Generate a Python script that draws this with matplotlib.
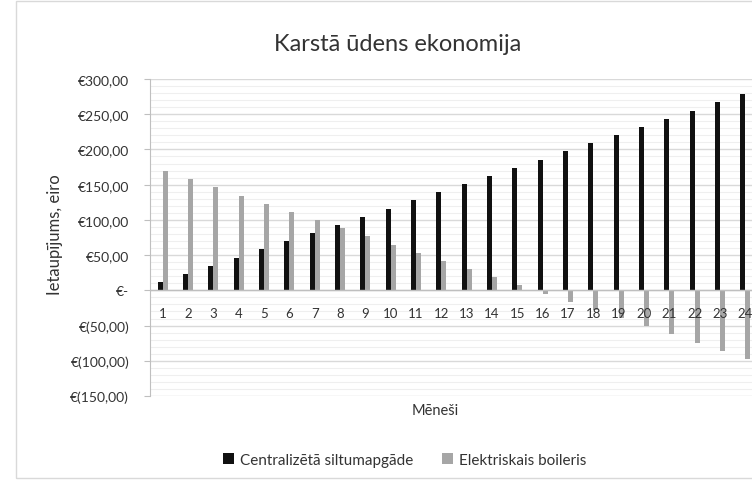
import matplotlib
matplotlib.use("Agg")
import matplotlib.pyplot as plt
from matplotlib.ticker import MultipleLocator, FuncFormatter
from matplotlib.patches import Rectangle

plt.rcParams['font.family'] = ['Lato', 'DejaVu Sans']

months = list(range(1, 25))
central = [11.6, 23.2, 34.8, 46.4, 58.0, 69.6, 81.2, 92.8, 104.4, 116.0, 127.6, 139.2,
           150.8, 162.4, 174.0, 185.6, 197.2, 208.8, 220.4, 232.0, 243.6, 255.2, 266.8, 278.4]
boiler = [169.4, 157.8, 146.2, 134.6, 123.0, 111.4, 99.8, 88.2, 76.6, 65.0, 53.4, 41.8,
          30.2, 18.6, 7.0, -4.6, -16.2, -27.8, -39.4, -51.0, -62.6, -74.2, -85.8, -97.4]
title = "Karstā ūdens ekonomija"
ylabel = "Ietaupījums, eiro"
xlabel = "Mēneši"
labels = ["Centralizētā siltumapgāde", "Elektriskais boileris"]

TXT = '#333333'

fig = plt.figure(figsize=(7.52, 4.81), dpi=100)
fig.patches.append(Rectangle((16/752, 2/481), 1.0, 477/481, transform=fig.transFigure,
                             fill=False, edgecolor='#d9d9d9', linewidth=1.0))
ax = fig.add_axes([150/752, 1 - 397/481, 608/752, 317/481])

w = 0.2
ax.bar([m - w/2 for m in months], central, width=w, color='#111111', label=labels[0], zorder=3)
ax.bar([m + w/2 for m in months], boiler, width=w, color='#a6a6a6', label=labels[1], zorder=3)

ax.set_xlim(0.5, 24.5)
ax.set_ylim(-150, 300)
ax.yaxis.set_major_locator(MultipleLocator(50))
ax.yaxis.set_minor_locator(MultipleLocator(10))
ax.grid(which='major', axis='y', color='#d9d9d9', linewidth=1.0, zorder=0)
ax.grid(which='minor', axis='y', color='#efefef', linewidth=0.8, zorder=0)

def fmt(v, pos):
    if abs(v) < 1e-9:
        return "€-"
    s = f"{abs(v):.2f}".replace('.', ',')
    return f"€({s})" if v < 0 else f"€{s}"

ax.yaxis.set_major_formatter(FuncFormatter(fmt))
ax.tick_params(axis='y', which='major', labelsize=10, colors='#bfbfbf', length=4, width=0.8,
               labelcolor=TXT, pad=11)
ax.tick_params(axis='y', which='minor', length=0)
ax.set_xticks([])
for s in ['top', 'right', 'bottom']:
    ax.spines[s].set_visible(False)
ax.spines['left'].set_color('#bfbfbf')
ax.axhline(0, color='#bfbfbf', linewidth=1.0, zorder=4)

for m in months:
    ax.annotate(str(m), (m, 0), xytext=(0, -16), textcoords='offset points',
                ha='center', va='center', fontsize=9.5, color=TXT)

fig.text(398/752, 1 - 45/481, title, ha='center', va='center', fontsize=17, color=TXT)
fig.text(55/752, 1 - 235/481, ylabel, ha='center', va='center', rotation=90, fontsize=12, color=TXT)
fig.text(435/752, 1 - 411/481, xlabel, ha='center', va='center', fontsize=10.5, color=TXT)

leg = fig.legend(loc='center', bbox_to_anchor=(405/752, 1 - 461/481), ncol=2, frameon=False,
                 fontsize=11, handlelength=0.7, handleheight=0.7, columnspacing=1.9, handletextpad=0.4)
for t in leg.get_texts():
    t.set_color(TXT)

fig.savefig('out.png', dpi=100)
